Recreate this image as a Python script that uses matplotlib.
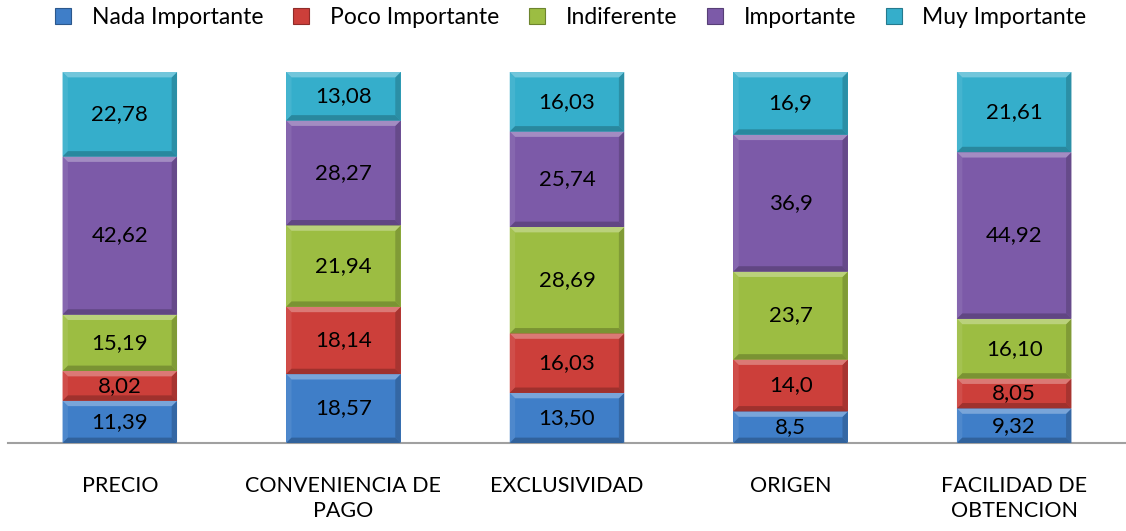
import numpy as np
import matplotlib.pyplot as plt
from matplotlib.patches import Polygon, Rectangle
import matplotlib.colors as mcolors

plt.rcParams['font.family'] = ['Lato', 'DejaVu Sans']

# Data
categories = ["PRECIO", "CONVENIENCIA DE\nPAGO", "EXCLUSIVIDAD", "ORIGEN", "FACILIDAD DE\nOBTENCION"]
series_names = ["Nada Importante", "Poco Importante", "Indiferente", "Importante", "Muy Importante"]
nada = [11.39, 18.57, 13.50, 8.5, 9.32]
poco = [8.02, 18.14, 16.03, 14.0, 8.05]
indif = [15.19, 21.94, 28.69, 23.7, 16.10]
importante = [42.62, 28.27, 25.74, 36.9, 44.92]
muy = [22.78, 13.08, 16.03, 16.9, 21.61]
# labels as written on the chart
lab_nada = ["11,39", "18,57", "13,50", "8,5", "9,32"]
lab_poco = ["8,02", "18,14", "16,03", "14,0", "8,05"]
lab_indif = ["15,19", "21,94", "28,69", "23,7", "16,10"]
lab_imp = ["42,62", "28,27", "25,74", "36,9", "44,92"]
lab_muy = ["22,78", "13,08", "16,03", "16,9", "21,61"]

series = [nada, poco, indif, importante, muy]
labels = [lab_nada, lab_poco, lab_indif, lab_imp, lab_muy]
colors = ["#3f7ec8", "#cc3f3a", "#9cbd42", "#7c5aa8", "#35aecb"]

fig = plt.figure(figsize=(11.26, 5.31), dpi=100)
ax = fig.add_axes([8 / 1126, 1 - 443 / 531, 1 - 8 / 1126, 371 / 531])

x = np.arange(len(categories))
width = 0.512
bottom = np.zeros(len(categories))


def shade(c, f):
    r, g, b = mcolors.to_rgb(c)
    if f > 0:
        return (r + (1 - r) * f, g + (1 - g) * f, b + (1 - b) * f)
    return (r * (1 + f), g * (1 + f), b * (1 + f))


def bevel(ax, rect, color):
    x0, y0 = rect.get_x(), rect.get_y()
    w, h = rect.get_width(), rect.get_height()
    bx = 0.024
    by = min(1.45, h / 3)
    x1, y1 = x0 + w, y0 + h
    top = [(x0, y1), (x1, y1), (x1 - bx, y1 - by), (x0 + bx, y1 - by)]
    bot = [(x0, y0), (x1, y0), (x1 - bx, y0 + by), (x0 + bx, y0 + by)]
    left = [(x0, y0), (x0, y1), (x0 + bx, y1 - by), (x0 + bx, y0 + by)]
    right = [(x1, y0), (x1, y1), (x1 - bx, y1 - by), (x1 - bx, y0 + by)]
    for pts, f in [(left, 0.08), (right, -0.18), (top, 0.3), (bot, -0.22)]:
        ax.add_patch(Polygon(pts, closed=True, facecolor=shade(color, f),
                             edgecolor='none', zorder=3))


for vals, labs, col, name in zip(series, labels, colors, series_names):
    bars = ax.bar(x, vals, width, bottom=bottom, color=col, edgecolor='none',
                  zorder=2, label=name)
    for b, lab in zip(bars, labs):
        bevel(ax, b, col)
        ax.text(b.get_x() + b.get_width() / 2, b.get_y() + b.get_height() / 2, lab,
                ha='center', va='center', fontsize=16, color='black', zorder=4)
    bottom += np.array(vals)

ax.set_xlim(-0.5, 4.5)
ax.set_ylim(0, 100)
ax.set_yticks([])
ax.set_xticks(x)
ax.set_xticklabels(categories, fontsize=15.5, linespacing=1.3)
ax.tick_params(axis='x', length=0, pad=24)
for s in ['top', 'right', 'left']:
    ax.spines[s].set_visible(False)
ax.spines['bottom'].set_color('#a0a0a0')
ax.spines['bottom'].set_linewidth(1.5)

handles = [Rectangle((0, 0), 1, 1, facecolor=c, edgecolor=shade(c, -0.3), linewidth=0.8)
           for c in colors]
fig.legend(handles, series_names, loc='center', bbox_to_anchor=(0.507, 1 - 18 / 531),
           ncol=5, frameon=False, fontsize=16.5, handlelength=0.7, handleheight=0.7,
           columnspacing=1.3, handletextpad=0.9)

fig.savefig("out.png", dpi=100)
